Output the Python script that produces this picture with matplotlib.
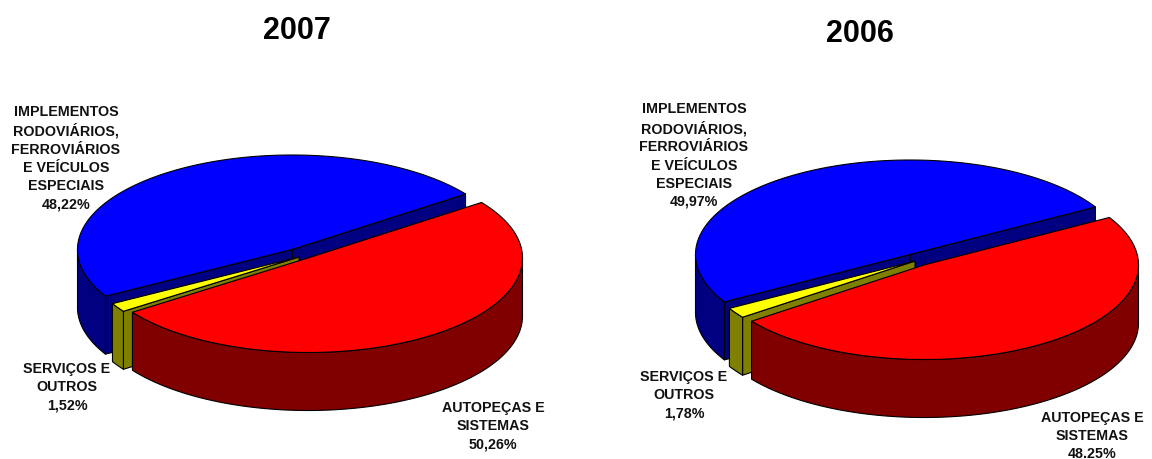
"""Dos tortas 3D con una porción separada (2007 y 2006)."""

import matplotlib
matplotlib.use('Agg')
import matplotlib.pyplot as plt
from matplotlib.patches import Polygon
import numpy as np

labels = [
    'IMPLEMENTOS\nRODOVIÁRIOS,\nFERROVIÁRIOS\nE VEÍCULOS\nESPECIAIS',
    'SERVIÇOS E\nOUTROS',
    'AUTOPEÇAS E\nSISTEMAS',
]
values_2007 = [48.22, 1.52, 50.26]
values_2006 = [49.97, 1.78, 48.25]
texts_2007 = ['48,22%', '1,52%', '50,26%']
texts_2006 = ['49,97%', '1,78%', '48.25%']

top_colors = ['#0000ff', '#ffff00', '#ff0000']
side_colors = ['#000080', '#808000', '#800000']

plt.rcParams['font.family'] = ['Liberation Sans', 'DejaVu Sans']
A, B, DEPTH = 214.5, 94.5, 58


def arc(cx, cy, t0, t1, drop=0):
    t = np.radians(np.linspace(t0, t1, max(int(abs(t1 - t0)) * 2, 2)))
    return np.column_stack([cx + A * np.cos(t), cy - B * np.sin(t) + drop])


def face(ax, pts, color):
    ax.add_patch(Polygon(pts, closed=True, facecolor=color, edgecolor='black',
                         linewidth=0.8, joinstyle='round'))


def cut_face(ax, cx, cy, angle, color):
    edge = arc(cx, cy, angle, angle)[0]
    face(ax, [(cx, cy), edge, edge + (0, DEPTH), (cx, cy + DEPTH)], color)


def draw_slice(ax, cx, cy, t0, t1, i, cuts):
    # primero las caras laterales, después la cara superior
    for angle in cuts:
        cut_face(ax, cx, cy, angle, side_colors[i])
    for a0, a1 in [(180, 360), (540, 720)]:
        s0, s1 = max(t0, a0), min(t1, a1)
        if s1 > s0:
            face(ax, np.vstack([arc(cx, cy, s0, s1),
                                arc(cx, cy, s1, s0, DEPTH)]), side_colors[i])
    face(ax, np.vstack([[(cx, cy)], arc(cx, cy, t0, t1)]), top_colors[i])


def draw_pie(ax, values, start, centers):
    ends = start + np.cumsum(values) * 3.6
    starts = np.r_[start, ends[:-1]]
    draw_slice(ax, *centers[0], starts[0], ends[0], 0, [starts[0], ends[0]])
    draw_slice(ax, *centers[1], starts[1], ends[1], 1, [ends[1]])
    draw_slice(ax, *centers[2], starts[2], ends[2], 2, [])


def draw_labels(ax, texts, positions):
    for label, text, (x, y) in zip(labels, texts, positions):
        ax.text(x, y, label + '\n' + text, ha='center', va='center',
                fontsize=10.3, fontweight='bold', linespacing=1.37,
                color='#111111')


fig = plt.figure(figsize=(11.52, 4.6), dpi=100)
ax = fig.add_axes([0, 0, 1, 1])
ax.set_xlim(0, 1152)
ax.set_ylim(460, 0)
ax.axis('off')

draw_pie(ax, values_2007, 36, [(292, 250.5), (299, 258), (308, 259)])
draw_pie(ax, values_2006, 30.2, [(910, 255.5), (915, 262), (924, 266)])

draw_labels(ax, texts_2007, [(66, 158), (67, 387), (493, 426)])
draw_labels(ax, texts_2006, [(694, 155.5), (684, 395), (1092, 436)])

ax.text(297, 31, '2007', ha='center', va='center', fontsize=22, fontweight='bold')
ax.text(860, 34, '2006', ha='center', va='center', fontsize=22, fontweight='bold')

fig.savefig('out.png', dpi=100)
